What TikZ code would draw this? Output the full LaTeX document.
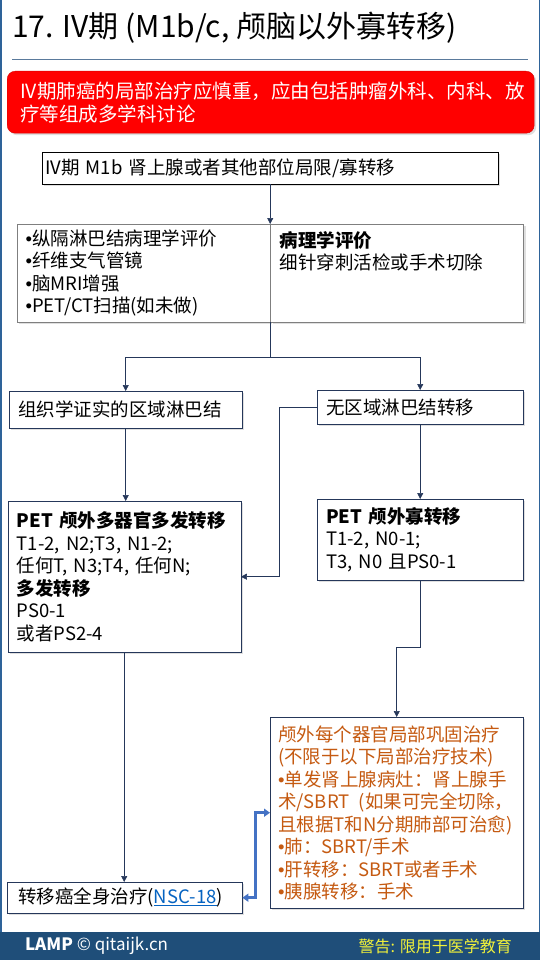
\documentclass[tikz,border=0pt]{standalone}
\usepackage{fontspec}
\setmainfont{Noto Sans CJK SC}
\newfontfamily\bulletfont{Liberation Sans}
\usetikzlibrary{arrows.meta,shadows}

\definecolor{navy}{HTML}{25375A}
\definecolor{boxgray}{HTML}{7F7F7F}
\definecolor{rulecolor}{HTML}{5A7A9C}
\definecolor{frameblue}{HTML}{2E6399}
\definecolor{footblue}{HTML}{1F4E79}
\definecolor{alertred}{HTML}{FF0000}
\definecolor{orangetext}{HTML}{C55A11}
\definecolor{linkblue}{HTML}{0563C1}
\definecolor{pathblue}{HTML}{4472C4}
\definecolor{warnyellow}{HTML}{F2F23A}

\newcommand{\bodyfont}{\fontsize{18.5}{22.5}\selectfont}
\newcommand{\bul}{{\bulletfont •}}

\begin{document}
\begin{tikzpicture}[
  x=1pt, y=-1pt,
  flowbox/.style={rectangle, draw=navy, fill=white, anchor=north west, align=left, inner xsep=9pt, inner ysep=0pt, font=\bodyfont, drop shadow={shadow xshift=2pt, shadow yshift=-2pt, opacity=0.25}},
  conn/.style={-{Triangle[length=6pt, width=6pt]}, navy, semithick},
  twoway/.style={{Triangle[length=6pt, width=8pt]}-{Triangle[length=6pt, width=8pt]}, pathblue, line width=2.5pt},
]
  \useasboundingbox (0,0) rectangle (540,960);
  \fill[white] (0,0) rectangle (540,960);

  \node[anchor=base west, inner sep=0pt, font=\fontsize{30}{35}\selectfont] (title) at (12,38) {17. IV期 (M1b/c, 颅脑以外寡转移)};
  \draw[rulecolor, line width=0.8pt] (12,59) -- (528,59);

  \node[flowbox, draw=alertred!85!black, fill=alertred, rounded corners=8pt, text=white, inner xsep=13pt, text width=501pt, minimum height=62pt, font=\fontsize{19.5}{23}\selectfont] (alert) at (7,71) {IV期肺癌的局部治疗应慎重，应由包括肿瘤外科、内科、放\\疗等组成多学科讨论};

  \node[flowbox, draw=black, inner xsep=3pt, text width=450pt, minimum height=32pt] (stage) at (42,152) {IV期 M1b 肾上腺或者其他部位局限/寡转移};

  \node[flowbox, draw=boxgray, text width=235.5pt, minimum height=98pt] (workup) at (16.5,224) {\bul 纵隔淋巴结病理学评价\\\bul 纤维支气管镜\\\bul 脑MRI增强\\\bul PET/CT扫描(如未做)};
  \node[flowbox, draw=boxgray, text width=235pt, minimum height=98pt] (patho) at (workup.north east) {\textbf{病理学评价}\\细针穿刺活检或手术切除\\\mbox{}\\\mbox{}};

  \node[flowbox, text width=215pt, minimum height=37pt] (nodepos) at (9,391) {组织学证实的区域淋巴结};
  \node[flowbox, text width=188pt, minimum height=34pt] (nodeneg) at (317,390) {无区域淋巴结转移};

  \node[flowbox, text width=215pt, minimum height=151pt] (multi) at (7.5,501) {\textbf{PET 颅外多器官多发转移}\\T1-2, N2;T3, N1-2;\\任何T, N3;T4, 任何N;\\\textbf{多发转移}\\PS0-1\\或者PS2-4};
  \node[flowbox, text width=188pt, minimum height=81pt] (oligo) at (317,499) {\textbf{PET 颅外寡转移}\\T1-2, N0-1;\\T3, N0 且PS0-1};

  \node[flowbox, text=orangetext, inner xsep=8pt, text width=237pt, minimum height=191pt] (local) at (270,717) {颅外每个器官局部巩固治疗\\(不限于以下局部治疗技术)\\\bul 单发肾上腺病灶：肾上腺手\\术/SBRT\enspace(如果可完全切除，\\且根据T和N分期肺部可治愈)\\\bul 肺：SBRT/手术\\\bul 肝转移：SBRT或者手术\\\bul 胰腺转移：手术};

  \node[flowbox, inner xsep=11pt, text width=213pt, minimum height=31pt] (systemic) at (7,882) {转移癌全身治疗({\color{linkblue}\underline{NSC-18}})};

  \draw[conn] (stage.south) -- (stage.south |- workup.north);
  \draw[navy, semithick] (workup.south east) -- ++(0,35) coordinate (split);
  \draw[conn] (split) -| (nodepos.north);
  \draw[conn] (split) -| (nodeneg.north);
  \draw[conn] (nodepos.south) -- (nodepos.south |- multi.north);
  \draw[conn] (nodeneg.west) -- ++(-38,0) |- (multi.east);
  \draw[conn] (nodeneg.south) -- (nodeneg.south |- oligo.north);
  \draw[conn] (oligo.south) -- ++(0,67) -| (local.north);
  \draw[conn] (multi.south) -- (multi.south |- systemic.north);
  \draw[twoway] (systemic.east) -- ++(13,0) |- (local.west);

  \fill[footblue] (0,932) rectangle (540,960);
  \node[anchor=west, inner sep=0pt, text=white, font=\fontsize{17}{20}\selectfont] (brand) at (25,946) {\textbf{LAMP} © qitaijk.cn};
  \node[anchor=east, inner sep=0pt, text=warnyellow, font=\fontsize{16}{19}\selectfont] (warning) at (512,946) {警告: 限用于医学教育};
  \draw[frameblue, line width=1.5pt] (0.75,0) -- (0.75,932);
  \draw[frameblue, line width=1.5pt] (539.25,0) -- (539.25,932);
\end{tikzpicture}
\end{document}
